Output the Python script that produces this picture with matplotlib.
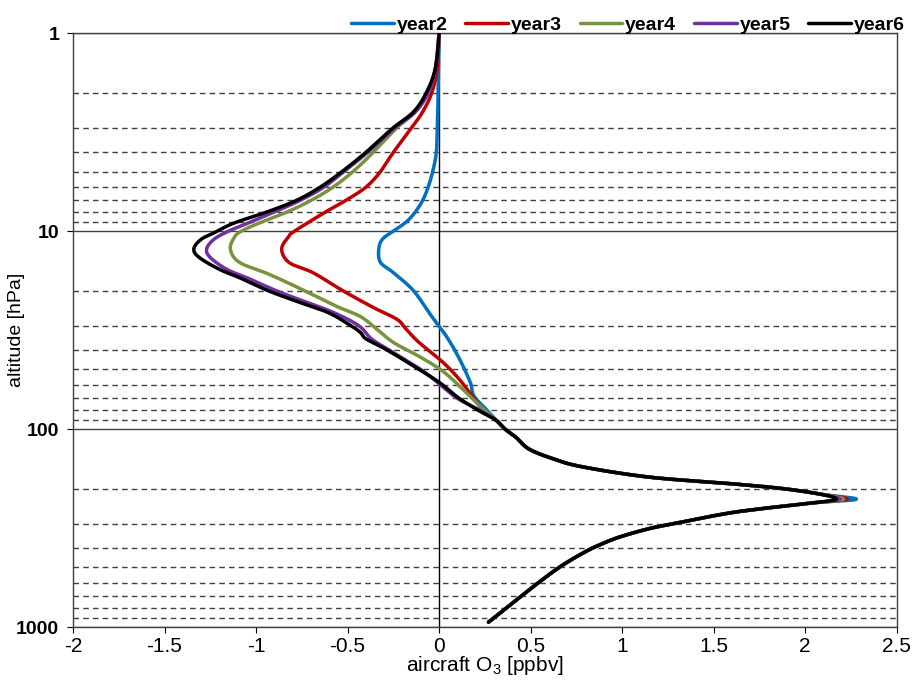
import numpy as np
import matplotlib
matplotlib.use("Agg")
import matplotlib.pyplot as plt
from matplotlib.ticker import LogLocator, FuncFormatter, NullFormatter

# --- dados (pressao em hPa, O3 em ppbv) ---

# parte de cima, separada por ano
p_year2 = [1, 2, 3, 4, 5, 6, 7, 8, 9, 10, 11, 12.4, 14.4, 16.2, 20, 27, 34, 44, 58, 68, 80]
x_year2 = [0.0, -0.005, -0.01, -0.015, -0.035, -0.06, -0.09, -0.13, -0.18, -0.25, -0.31, -0.33,
           -0.32, -0.25, -0.14, -0.04, 0.04, 0.11, 0.17, 0.19, 0.26]

p_year3 = [1, 1.5, 2, 2.5, 3, 4, 5, 6, 7, 8, 10, 10.6, 12.3, 14.4, 16.2, 19.9, 24.3, 27.9,
           31.3, 36.5, 45.9, 56, 68, 80]
x_year3 = [0.0, -0.01, -0.04, -0.09, -0.15, -0.25, -0.32, -0.40, -0.51, -0.62, -0.79,
           -0.82, -0.86, -0.82, -0.69, -0.53, -0.36, -0.23, -0.18, -0.11, 0.02, 0.11, 0.18, 0.24]

p_year4 = [1, 1.5, 2, 2.5, 3, 4, 5, 6, 7, 8, 9, 10, 10.8, 12.4, 14.4, 16.5, 19.9, 24, 27,
           31.3, 36.5, 42.9, 51, 63, 76]
x_year4 = [0.0, -0.02, -0.06, -0.13, -0.23, -0.36, -0.47, -0.58, -0.70, -0.83, -0.97, -1.08,
           -1.12, -1.14, -1.09, -0.93, -0.74, -0.56, -0.43, -0.34, -0.25, -0.11, 0.02, 0.13, 0.22]

p_year5 = [1, 1.5, 2, 2.5, 3, 4, 5, 6, 7, 8, 9, 10, 11, 12.3, 13.6, 15.6, 17.2, 20, 22.6,
           25.7, 30, 35, 40, 50, 60, 70, 80]
x_year5 = [0.0, -0.02, -0.06, -0.13, -0.24, -0.39, -0.52, -0.63, -0.76, -0.90, -1.03, -1.15,
           -1.23, -1.27, -1.25, -1.16, -1.05, -0.89, -0.74, -0.58, -0.44, -0.37, -0.27, -0.10,
           0.01, 0.10, 0.22]

p_year6 = [1, 1.5, 2, 2.5, 3, 4, 5, 6, 7, 8, 9.1, 10.1, 11, 12.3, 13.6, 15.6, 17.2, 19.9, 22.6,
           25.7, 29.7, 32.5, 35, 39.6, 48, 58, 70, 81]
x_year6 = [0.0, -0.02, -0.07, -0.14, -0.25, -0.40, -0.53, -0.65, -0.78, -0.94, -1.12, -1.22,
           -1.30, -1.34, -1.31, -1.20, -1.09, -0.94, -0.78, -0.61, -0.49, -0.43, -0.40, -0.29,
           -0.14, 0.00, 0.11, 0.22]

# parte de baixo, quase igual para todos os anos
p_lower = [90, 100, 110, 126, 141, 155, 175, 189, 200, 213, 226, 235, 250, 266, 297, 318, 350,
           380, 416, 490, 590, 746, 945]
x_lower = [0.31, 0.36, 0.42, 0.49, 0.62, 0.78, 1.15, 1.60, 1.88, 2.08, None, 2.06, 1.80, 1.58,
           1.31, 1.15, 0.99, 0.89, 0.80, 0.67, 0.55, 0.41, 0.27]
# valor do pico (~226 hPa) para cada ano
peak = {'year2': 2.28, 'year3': 2.23, 'year4': 2.21, 'year5': 2.19, 'year6': 2.17}

SERIES = ['year2', 'year3', 'year4', 'year5', 'year6']
COLORS = {'year2': '#0070C0', 'year3': '#C00000', 'year4': '#77933C',
          'year5': '#7030A0', 'year6': '#000000'}

x_ticks = [-2, -1.5, -1, -0.5, 0, 0.5, 1, 1.5, 2, 2.5]

# --- fim dos dados ---

plt.rcParams['font.family'] = ['Liberation Sans', 'DejaVu Sans']
plt.rcParams['mathtext.fontset'] = 'custom'
plt.rcParams['mathtext.rm'] = 'Liberation Sans'
plt.rcParams['mathtext.it'] = 'Liberation Sans'


def full_profile(name):
    upper_p = globals()['p_' + name]
    upper_x = globals()['x_' + name]
    low_x = [peak[name] if v is None else v for v in x_lower]
    return np.array(upper_p + p_lower, float), np.array(upper_x + low_x, float)


def smooth_line(x, p, n=16):
    # linha suavizada (tipo "smoothed line" do Excel), Catmull-Rom em (x, log p)
    pts = np.column_stack([x, np.log10(p)])
    pts = np.vstack([pts[0], pts, pts[-1]])
    t = np.linspace(0, 1, n, endpoint=False)[:, None]
    out = []
    for i in range(1, len(pts) - 2):
        p0, p1, p2, p3 = pts[i - 1], pts[i], pts[i + 1], pts[i + 2]
        seg = 0.5 * ((2 * p1) + (-p0 + p2) * t + (2 * p0 - 5 * p1 + 4 * p2 - p3) * t ** 2
                     + (-p0 + 3 * p1 - 3 * p2 + p3) * t ** 3)
        out.append(seg)
    out.append(pts[-2][None, :])
    out = np.vstack(out)
    return out[:, 0], 10 ** out[:, 1]


def main():
    fig = plt.figure(figsize=(9.15, 6.91), dpi=100)
    ax = fig.add_axes([0.0798, 0.0926, 0.9002, 0.8594])

    for name in SERIES:
        p, x = full_profile(name)
        xs, ps = smooth_line(x, p)
        ax.plot(xs, ps, color=COLORS[name], lw=2.5, label=name,
                solid_capstyle='round', solid_joinstyle='round', zorder=3)

    ax.set_yscale('log')
    ax.set_ylim(1000, 1)
    ax.set_xlim(-2, 2.5)

    ax.yaxis.set_major_locator(LogLocator(base=10))
    ax.yaxis.set_minor_locator(LogLocator(base=10, subs=np.arange(2, 10)))
    ax.yaxis.set_major_formatter(FuncFormatter(lambda v, pos: f'{v:g}'))
    ax.yaxis.set_minor_formatter(NullFormatter())
    ax.set_xticks(x_ticks)
    ax.set_xticklabels([f'{v:g}' for v in x_ticks])

    ax.grid(True, axis='y', which='major', color='#404040', lw=1.0, ls='-', zorder=1)
    ax.grid(True, axis='y', which='minor', color='#404040', lw=1.0, ls=(0, (4, 3)), zorder=1)
    ax.axvline(0, color='black', lw=1.0, zorder=2)

    ax.tick_params(axis='y', which='major', length=4, direction='out', pad=6,
                   labelsize=14)
    ax.tick_params(axis='y', which='minor', length=0)
    ax.tick_params(axis='x', length=4, direction='out', labelsize=15, pad=3)
    for lab in ax.get_yticklabels():
        lab.set_fontweight('bold')

    for sp in ax.spines.values():
        sp.set_color('#404040')
        sp.set_linewidth(1.0)

    ax.set_xlabel('aircraft O$_3$ [ppbv]', fontsize=15, labelpad=-1)
    ax.set_ylabel('altitude [hPa]', fontsize=14)
    ax.yaxis.set_label_coords(-0.058, 0.5)

    ax.legend(loc='lower right', bbox_to_anchor=(1.012, 0.995), ncol=5, frameon=False,
              prop={'weight': 'bold', 'size': 14}, handlelength=2.2, handletextpad=0.15,
              columnspacing=0.9, borderaxespad=0, borderpad=0.1)

    fig.savefig('out.png', dpi=100)
    plt.close(fig)


if __name__ == '__main__':
    main()
